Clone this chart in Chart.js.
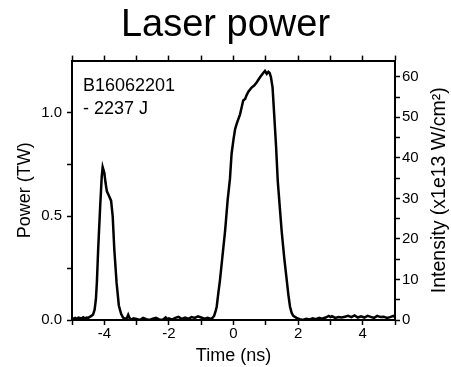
<!DOCTYPE html>
<html>
<head>
<meta charset="utf-8">
<script src="https://cdn.jsdelivr.net/npm/chart.js@4/dist/chart.umd.min.js"></script>
<style>
    body { margin: 0; background: #ffffff; }
    canvas { display: block; }
</style>
</head>
<body>
<canvas id="laser_chart" width="451" height="367"></canvas>
<script>
"use strict";
// Data - Time (ns) And Power (TW)
const time_ns = [
    -5.0, -4.9, -4.85, -4.8, -4.7, -4.65, -4.6, -4.55, -4.5, -4.45, -4.4, -4.35,
    -4.3, -4.26, -4.23, -4.19, -4.13, -4.08, -4.05, -4.0, -3.96, -3.92, -3.86, -3.79,
    -3.74, -3.69, -3.62, -3.55, -3.48, -3.42, -3.35, -3.3, -3.26, -3.22, -3.15, -3.1,
    -3.0, -2.9, -2.8, -2.7, -2.6, -2.5, -2.4, -2.3, -2.2, -2.1, -2.05, -2.0,
    -1.9, -1.8, -1.7, -1.6, -1.5, -1.4, -1.3, -1.2, -1.1, -1.0, -0.9, -0.8,
    -0.7, -0.65, -0.6, -0.55, -0.52, -0.47, -0.42, -0.34, -0.26, -0.18, -0.11, -0.06,
    0.0, 0.05, 0.1, 0.2, 0.26, 0.3, 0.36, 0.41, 0.46, 0.56, 0.64, 0.72,
    0.82, 0.92, 0.975, 1.03, 1.08, 1.12, 1.16, 1.21, 1.26, 1.32, 1.37, 1.43,
    1.49, 1.57, 1.65, 1.7, 1.75, 1.8, 1.85, 1.95, 2.05, 2.15, 2.25, 2.35,
    2.45, 2.55, 2.65, 2.75, 2.85, 2.95, 3.0, 3.05, 3.15, 3.25, 3.35, 3.45,
    3.55, 3.65, 3.75, 3.85, 3.95, 4.05, 4.15, 4.25, 4.35, 4.45, 4.55, 4.65,
    4.75, 4.85, 4.95, 5.0
];
const power_tw = [
    0.005, 0.01, 0.005, 0.012, 0.008, 0.013, 0.006, 0.012, 0.01, 0.015, 0.02, 0.025,
    0.05, 0.1, 0.18, 0.34, 0.54, 0.69, 0.737, 0.71, 0.66, 0.62, 0.6, 0.575,
    0.5, 0.34, 0.18, 0.07, 0.03, 0.012, 0.005, 0.01, 0.025, 0.01, 0.0, 0.008,
    0.005, 0.0, 0.01, 0.004, 0.0, 0.006, 0.01, 0.003, 0.0, 0.012, 0.004, 0.008,
    0.002, 0.01, 0.015, 0.005, 0.012, 0.006, 0.014, 0.01, 0.018, 0.012, 0.006, 0.01,
    0.005, 0.01, 0.02, 0.045, 0.064, 0.13, 0.19, 0.31, 0.43, 0.58, 0.68, 0.8,
    0.87, 0.92, 0.946, 0.99, 1.03, 1.058, 1.065, 1.085, 1.1, 1.12, 1.13, 1.146,
    1.17, 1.19, 1.2, 1.186, 1.196, 1.19, 1.17, 1.12, 0.99, 0.83, 0.67, 0.55,
    0.43, 0.3, 0.19, 0.12, 0.064, 0.035, 0.02, 0.01, 0.004, 0.0, 0.006, 0.002,
    0.008, 0.004, 0.01, 0.006, 0.012, 0.02, 0.014, 0.018, 0.01, 0.014, 0.012, 0.016,
    0.02, 0.014, 0.022, 0.012, 0.018, 0.012, 0.02, 0.015, 0.01, 0.02, 0.014, 0.016,
    0.01, 0.014, 0.02, 0.015
];
// Axis Ranges And Tick Steps
const time_range = [-5, 5];
const power_range = [0, 1.25];
const intensity_range = [0, 64];
const time_step = 1;
const power_step = 0.25;
const intensity_step = 5;
// Texts
const chart_title = "Laser power";
const shot_label = ["B16062201", "- 2237 J"];
const time_title = "Time (ns)";
const power_title = "Power (TW)";
const intensity_title = "Intensity (x1e13 W/cm\u00B2)";

const font_family = "'Liberation Sans', Arial, sans-serif";
Chart.defaults.font.family = font_family;
Chart.defaults.color = "#000000";

const points = time_ns.map(function (t, i) {
    return { x: t, y: power_tw[i] };
});

// Builds Ticks Every Step, Without One On The Top Border
function stepTicks(step) {
    return function (scale) {
        const ticks = [];
        for (let i = 0; scale.min + i * step < scale.max - 1e-9; i++) {
            ticks.push({ value: Math.round((scale.min + i * step) * 1000) / 1000 });
        }
        scale.ticks = ticks;
    };
}

// Shot Label And Right Axis Title
const text_plugin = {
    id: "extraTexts",
    afterDraw: function (chart) {
        const { ctx, chartArea } = chart;
        ctx.save();
        ctx.fillStyle = "#000000";
        ctx.font = "18px " + font_family;
        ctx.textAlign = "left";
        ctx.textBaseline = "middle";
        ctx.fillText(shot_label[0], chartArea.left + 11, chartArea.top + 25);
        ctx.fillText(shot_label[1], chartArea.left + 11, chartArea.top + 48);
        ctx.font = "19.5px " + font_family;
        ctx.translate(440, (chartArea.top + chartArea.bottom) / 2);
        ctx.rotate(-Math.PI / 2);
        ctx.textAlign = "center";
        ctx.fillText(intensity_title, 0, 0);
        ctx.restore();
    }
};

const axis_border = { display: true, color: "#000000", width: 2 };
const axis_grid = { drawOnChartArea: false, tickLength: 5, tickColor: "#000000", tickWidth: 1.5 };

new Chart(document.querySelector("#laser_chart"), {
    type: "line",
    data: {
        datasets: [{
            label: "power",
            data: points,
            borderColor: "#000000",
            borderWidth: 2.5,
            pointRadius: 0,
            tension: 0,
            fill: false,
            yAxisID: "y",
        }]
    },
    options: {
        responsive: false,
        animation: false,
        devicePixelRatio: 1,
        layout: { padding: 0 },
        scales: {
            x: {
                type: "linear",
                position: "bottom",
                min: time_range[0],
                max: time_range[1],
                border: axis_border,
                grid: axis_grid,
                ticks: {
                    stepSize: time_step,
                    padding: 0,
                    maxRotation: 0,
                    autoSkip: false,
                    font: { size: 15 },
                    callback: function (value) {
                        return value % 2 === 0 ? String(value) : "";
                    }
                },
                title: {
                    display: true,
                    text: time_title,
                    font: { size: 18 },
                    padding: { top: 0, bottom: 0 },
                },
                afterFit: function (scale) { scale.height = 47; },
            },
            x2: {
                type: "linear",
                position: "top",
                min: time_range[0],
                max: time_range[1],
                border: axis_border,
                grid: axis_grid,
                ticks: { stepSize: time_step, display: false },
                afterFit: function (scale) { scale.height = 12; },
            },
            y: {
                type: "linear",
                position: "left",
                min: power_range[0],
                max: power_range[1],
                border: axis_border,
                grid: axis_grid,
                afterBuildTicks: stepTicks(power_step),
                ticks: {
                    padding: 5,
                    autoSkip: false,
                    font: { size: 15 },
                    callback: function (value) {
                        return Math.abs(value * 2 - Math.round(value * 2)) < 1e-9 ? value.toFixed(1) : "";
                    }
                },
                title: {
                    display: true,
                    text: power_title,
                    font: { size: 18 },
                    padding: { top: 14, bottom: 0 },
                },
                afterFit: function (scale) { scale.width = 72; },
            },
            y1: {
                type: "linear",
                position: "right",
                min: intensity_range[0],
                max: intensity_range[1],
                border: axis_border,
                grid: axis_grid,
                afterBuildTicks: stepTicks(intensity_step),
                ticks: {
                    padding: 2,
                    autoSkip: false,
                    font: { size: 15 },
                    callback: function (value) {
                        return value % 10 === 0 ? String(value) : "";
                    }
                },
                afterFit: function (scale) { scale.width = 56; },
            },
        },
        plugins: {
            legend: { display: false },
            tooltip: { enabled: false },
            title: {
                display: true,
                text: chart_title,
                color: "#000000",
                font: { size: 38, weight: "normal" },
                padding: { top: 3, bottom: 0 },
            },
        },
    },
    plugins: [text_plugin],
});
</script>
</body>
</html>
